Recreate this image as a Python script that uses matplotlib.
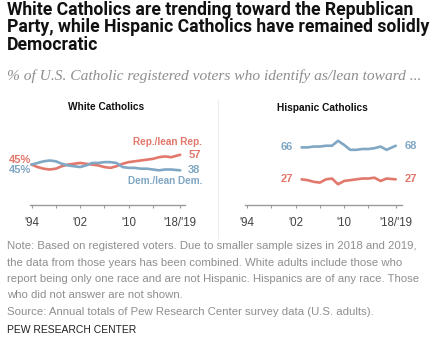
import matplotlib
matplotlib.use('Agg')
import matplotlib.pyplot as plt

W, H, DPI = 437, 337, 100

# ---------------- data ----------------
white_years = list(range(1994, 2018)) + [2018.5]
white_rep = [45, 42, 40, 39, 40, 43, 45, 46, 47, 46, 45, 44, 42, 41, 43, 46, 48, 49, 50, 51, 52, 54, 55, 54, 57]
white_dem = [45, 47, 49, 50, 49, 46, 44, 43, 42, 44, 47, 47, 48, 48, 47, 42, 41, 41, 40, 40, 39, 38, 39, 39, 38]

hisp_years = list(range(2003, 2018)) + [2018.5]
hisp_dem = [66, 66, 67, 67, 68, 68, 74, 69, 63, 63, 64, 64, 65, 67, 63, 68]
hisp_rep = [27, 26, 24, 23, 27, 28, 21, 25, 26, 27, 28, 28, 29, 25, 28, 27]

tick_pos = [1994, 1998, 2002, 2006, 2010, 2014, 2018.5]
tick_labels = ["'94", "", "'02", "", "'10", "", "'18/'19"]

title_lines = ["White Catholics are trending toward the Republican",
               "Party, while Hispanic Catholics have remained solidly",
               "Democratic"]
subtitle = "% of U.S. Catholic registered voters who identify as/lean toward ..."
note_lines = ["Note: Based on registered voters. Due to smaller sample sizes in 2018 and 2019,",
              "the data from those years has been combined. White adults include those who",
              "report being only one race and are not Hispanic. Hispanics are of any race. Those",
              "who did not answer are not shown.",
              "Source: Annual totals of Pew Research Center survey data (U.S. adults)."]
source_org = "PEW RESEARCH CENTER"

RED = '#E2786C'
BLUE = '#80A7C4'
GRAY_TXT = '#8E8E8E'

plt.rcParams['font.family'] = ['Liberation Sans', 'DejaVu Sans']

fig = plt.figure(figsize=(W / DPI, H / DPI), dpi=DPI)
renderer = fig.canvas.get_renderer()


def px(x, y):
    return x / W, 1 - y / H


def fit_size(s, target_w, base=10, **kw):
    t = fig.text(0, 0, s, fontsize=base, **kw)
    w = t.get_window_extent(renderer).width
    t.remove()
    return base * target_w / w


def ftext(x, y, s, **kw):
    return fig.text(*px(x, y), s, **kw)


# title
title_kw = dict(fontweight='bold', color='#111111', family=['Roboto', 'Liberation Sans', 'DejaVu Sans'])
fs_title = fit_size(title_lines[0], 408, **title_kw)
for line, yb in zip(title_lines, [15, 32.5, 50]):
    ftext(7, yb, line, fontsize=fs_title, va='baseline', **title_kw)

sub_kw = dict(family=['Liberation Serif', 'DejaVu Serif'], style='italic', color=GRAY_TXT)
ftext(7, 80, subtitle, fontsize=fit_size(subtitle, 416, **sub_kw), va='baseline', **sub_kw)

# separator
fig.add_artist(plt.Line2D([218 / W, 218 / W], [1 - 100 / H, 1 - 238 / H], color='#EDEDED', lw=0.8))

# notes
note_kw = dict(color=GRAY_TXT)
fs_note = fit_size(note_lines[2], 414, **note_kw)
for line, yb in zip(note_lines, [249, 265.5, 282, 298.5, 315]):
    ftext(7, yb, line, fontsize=fs_note, va='baseline', **note_kw)
org_kw = dict(color='#222222')
ftext(7, 333, source_org, fontsize=fit_size(source_org, 130, **org_kw), va='baseline', **org_kw)


def make_axes(left_px, right_px, x_first_px):
    ax = fig.add_axes([left_px / W, 1 - 205 / H, (right_px - left_px) / W, 85 / H])
    ppy = 6.07
    ax.set_xlim(1994 + (left_px - x_first_px) / ppy, 1994 + (right_px - x_first_px) / ppy)
    ax.set_ylim(-4.3, 99.4)
    for s in ['top', 'right', 'left']:
        ax.spines[s].set_visible(False)
    ax.spines['bottom'].set_color('#9A9A9A')
    ax.spines['bottom'].set_linewidth(1.0)
    ax.set_yticks([])
    ax.set_xticks(tick_pos)
    ax.set_xticklabels(tick_labels)
    ax.tick_params(axis='x', length=2.5, width=0.8, color='#9A9A9A', pad=6,
                   labelsize=8.3, labelcolor='#444444')
    ax.patch.set_alpha(0)
    return ax


lw = 1.9
line_kw = dict(lw=lw, solid_capstyle='round', solid_joinstyle='round')
# White Catholics
ax1 = make_axes(30, 185, 31.5)
ax1.plot(white_years, white_rep, color=RED, **line_kw)
ax1.plot(white_years, white_dem, color=BLUE, **line_kw)
ftext(106, 107, "White Catholics", fontsize=7.3, fontweight='bold', color='#111111', ha='center', va='center')

num_kw = dict(textcoords='offset pixels', fontsize=8, fontweight='bold', va='center')
ax1.annotate("45%", (white_years[0], white_rep[0]), xytext=(0, 5), color=RED, ha='right', **num_kw)
ax1.annotate("45%", (white_years[0], white_dem[0]), xytext=(0, -5), color=BLUE, ha='right', **num_kw)
ax1.annotate(str(white_rep[-1]), (white_years[-1], white_rep[-1]), xytext=(8, 0), color=RED, ha='left', **num_kw)
ax1.annotate(str(white_dem[-1]), (white_years[-1], white_dem[-1]), xytext=(8, 0), color=BLUE, ha='left', **num_kw)
lab_kw = dict(textcoords='offset pixels', fontsize=7.2, fontweight='bold', va='center', ha='right')
ax1.annotate("Rep./lean Rep.", (white_years[-1], white_rep[-1]), xytext=(22, 13), color=RED, **lab_kw)
ax1.annotate("Dem./lean Dem.", (white_years[-1], white_dem[-1]), xytext=(22, -11), color=BLUE, **lab_kw)

# Hispanic Catholics
ax2 = make_axes(245, 402, 247)
ax2.plot(hisp_years, hisp_dem, color=BLUE, **line_kw)
ax2.plot(hisp_years, hisp_rep, color=RED, **line_kw)
ftext(322, 108, "Hispanic Catholics", fontsize=7.3, fontweight='bold', color='#111111', ha='center', va='center')
ax2.annotate(str(hisp_dem[0]), (hisp_years[0], hisp_dem[0]), xytext=(-9, 0), color=BLUE, ha='right', **num_kw)
ax2.annotate(str(hisp_rep[0]), (hisp_years[0], hisp_rep[0]), xytext=(-9, 0), color=RED, ha='right', **num_kw)
ax2.annotate(str(hisp_dem[-1]), (hisp_years[-1], hisp_dem[-1]), xytext=(9, 0), color=BLUE, ha='left', **num_kw)
ax2.annotate(str(hisp_rep[-1]), (hisp_years[-1], hisp_rep[-1]), xytext=(9, 0), color=RED, ha='left', **num_kw)

fig.savefig('out.png', dpi=DPI)
